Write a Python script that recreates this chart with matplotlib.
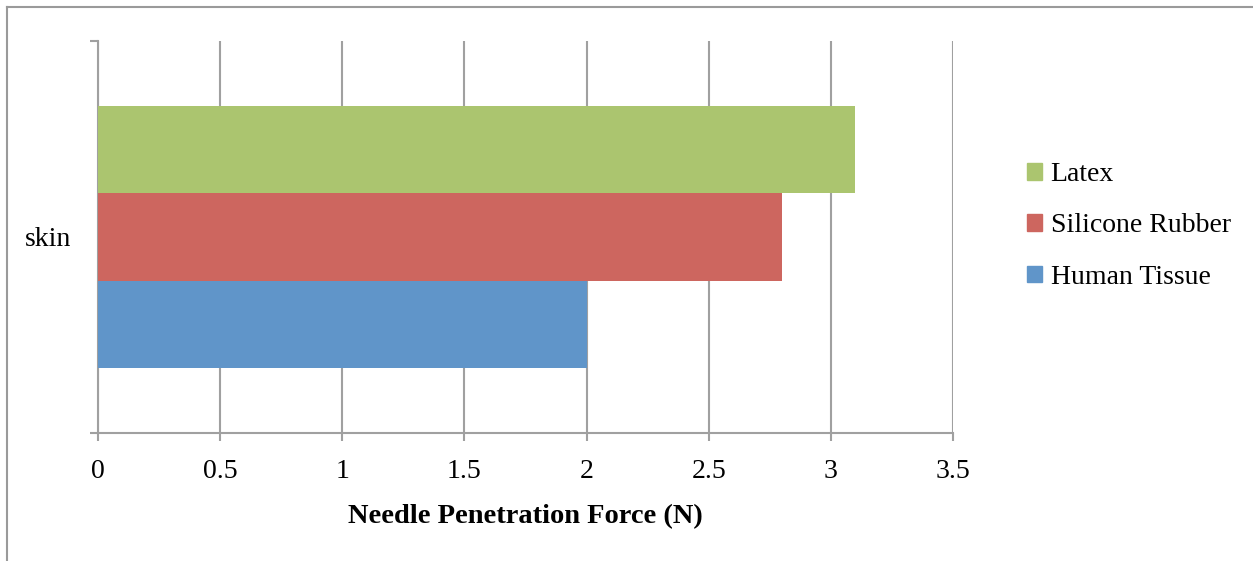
import matplotlib.pyplot as plt
from matplotlib.lines import Line2D
from matplotlib.patches import Patch

# data
category = "skin"
series = ["Human Tissue", "Silicone Rubber", "Latex"]
values = [2.0, 2.8, 3.1]
colors = ["#6095C9", "#CD665F", "#ABC56F"]
xticks = [0, 0.5, 1, 1.5, 2, 2.5, 3, 3.5]
xticklabels = ["0", "0.5", "1", "1.5", "2", "2.5", "3", "3.5"]

plt.rcParams["font.family"] = ["Liberation Serif", "DejaVu Serif"]
gray = "#A0A0A0"
fs = 20

fig = plt.figure(figsize=(12.53, 5.61), dpi=100)
ax = fig.add_axes([98 / 1253, 1 - 433 / 561, 855 / 1253, 392 / 561])

# outer chart frame: only the top and left edges show
ytop = 1 - 6.5 / 561
xl = 6.5 / 1253
fig.lines.append(Line2D([xl, 1.0], [ytop, ytop], transform=fig.transFigure,
                        color="#9A9A9A", linewidth=1.5))
fig.lines.append(Line2D([xl, xl], [0, ytop], transform=fig.transFigure,
                        color="#9A9A9A", linewidth=1.5))

h = 0.2235
offsets = [-h, 0, h]
for i in range(len(series)):
    ax.barh(offsets[i], values[i], height=h, color=colors[i], label=series[i], zorder=3)

ax.set_xlim(0, 3.5)
ax.set_ylim(-0.5, 0.5)
ax.set_xticks(xticks)
ax.set_xticklabels(xticklabels, fontsize=fs)
ax.set_yticks([0])
ax.set_yticklabels([category], fontsize=fs)
ax.set_yticks([-0.5, 0.5], minor=True)

ax.grid(axis="x", color=gray, linewidth=1.5, zorder=0)
for s in ["top", "right"]:
    ax.spines[s].set_visible(False)
for s in ["left", "bottom"]:
    ax.spines[s].set_color(gray)
    ax.spines[s].set_linewidth(1.5)

ax.tick_params(axis="x", length=6, width=1.5, color=gray, pad=13)
ax.tick_params(axis="y", which="major", length=0, pad=19)
ax.tick_params(axis="y", which="minor", length=6, width=1.5, color=gray)

ax.set_xlabel("Needle Penetration Force (N)", fontsize=20.5, fontweight="bold", labelpad=14)

handles = [Patch(color=colors[i], label=series[i]) for i in range(len(series))][::-1]
fig.legend(handles=handles, loc="center left", bbox_to_anchor=(1002 / 1253, 1 - 226 / 561),
           frameon=False, fontsize=fs, handlelength=0.55, handleheight=0.55,
           handletextpad=0.3, labelspacing=0.95)

fig.savefig("out.png", dpi=100)
